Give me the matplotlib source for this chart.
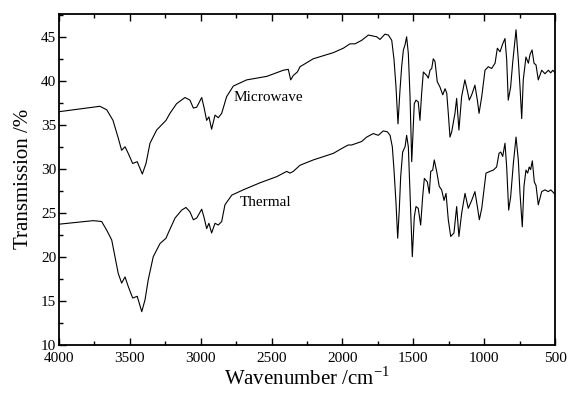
import numpy as np
import matplotlib.pyplot as plt
from matplotlib.ticker import MultipleLocator

plt.rcParams['font.family'] = ['Liberation Serif', 'DejaVu Serif']
plt.rcParams['mathtext.fontset'] = 'custom'
plt.rcParams['mathtext.rm'] = 'Liberation Serif'

# FTIR spectra: wavenumber (cm-1) / transmission (%)
wn_micro = [3993, 3852, 3711, 3663, 3619, 3584, 3558, 3534, 3513, 3480, 3448, 3412,
            3386, 3358, 3311, 3245, 3217, 3170, 3111, 3076, 3052, 3028, 2993, 2977,
            2958, 2942, 2923, 2899, 2876, 2852, 2817, 2770, 2676, 2534, 2417, 2382,
            2365, 2347, 2318, 2299, 2206, 2064, 1994, 1947, 1911, 1864, 1817, 1758,
            1735, 1700, 1676, 1652, 1636, 1622, 1608, 1594, 1582, 1570, 1558, 1547,
            1535, 1523, 1511, 1493, 1481, 1465, 1453, 1441, 1429, 1405, 1394, 1382,
            1370, 1359, 1347, 1331, 1312, 1292, 1276, 1264, 1253, 1241, 1229, 1206,
            1194, 1178, 1159, 1136, 1119, 1105, 1088, 1065, 1048, 1036, 1017, 994,
            971, 947, 923, 907, 888, 869, 853, 841, 830, 813, 799, 775, 759, 747,
            735, 724, 705, 688, 676, 662, 648, 634, 618, 594, 571, 547, 530, 516, 500]
tr_micro = [36.5, 36.8, 37.1, 36.7, 35.5, 33.6, 32.1, 32.5, 31.8, 30.6, 30.8, 29.4,
            30.6, 32.9, 34.4, 35.5, 36.3, 37.4, 38.1, 37.8, 36.9, 37.0, 38.1, 37.0,
            35.5, 35.9, 34.5, 36.1, 35.8, 36.3, 38.2, 39.4, 40.1, 40.5, 41.2, 41.3,
            40.1, 40.6, 41.0, 41.6, 42.5, 43.2, 43.7, 44.2, 44.2, 44.6, 45.2, 45.0,
            44.7, 45.3, 45.2, 44.6, 42.4, 39.3, 35.1, 38.9, 41.6, 43.5, 44.1, 45.0,
            43.1, 38.2, 30.8, 37.4, 37.8, 37.6, 35.5, 38.6, 41.0, 40.6, 40.3, 41.2,
            41.4, 42.5, 42.2, 39.9, 39.3, 38.4, 39.1, 38.6, 36.3, 33.6, 34.2, 36.3,
            38.0, 34.4, 38.2, 40.1, 38.9, 37.8, 38.4, 39.5, 37.8, 36.3, 38.2, 41.2,
            41.6, 41.4, 42.0, 43.7, 43.3, 44.2, 44.8, 42.4, 37.8, 39.3, 42.0, 45.8,
            42.4, 39.3, 35.7, 40.1, 42.7, 42.0, 43.0, 43.5, 42.0, 41.8, 40.1, 41.2,
            40.8, 41.2, 40.9, 41.2, 40.9]

wn_thermal = [3998, 3758, 3699, 3663, 3628, 3605, 3582, 3558, 3534, 3511, 3480, 3448,
              3416, 3393, 3370, 3335, 3287, 3245, 3229, 3181, 3134, 3104, 3076, 3052,
              3028, 2993, 2977, 2958, 2942, 2923, 2899, 2876, 2852, 2829, 2781, 2700,
              2582, 2464, 2393, 2370, 2347, 2299, 2206, 2064, 2005, 1959, 1935, 1899,
              1864, 1829, 1782, 1747, 1712, 1683, 1664, 1648, 1636, 1622, 1610, 1599,
              1589, 1575, 1558, 1547, 1535, 1523, 1507, 1493, 1481, 1465, 1448, 1434,
              1422, 1401, 1387, 1377, 1363, 1352, 1335, 1317, 1300, 1283, 1269, 1253,
              1236, 1213, 1194, 1178, 1159, 1135, 1112, 1088, 1065, 1048, 1034, 1017,
              987, 959, 935, 912, 895, 883, 869, 853, 841, 827, 813, 794, 775, 759,
              747, 731, 719, 705, 693, 682, 672, 660, 646, 634, 618, 594, 571, 547,
              530, 500]
tr_thermal = [23.7, 24.1, 24.0, 23.0, 21.9, 20.0, 18.1, 17.0, 17.7, 16.6, 15.3, 15.5,
              13.75, 15.1, 17.4, 20.0, 21.5, 22.1, 22.7, 24.4, 25.3, 25.6, 25.1, 24.2,
              24.4, 25.4, 24.5, 23.2, 23.8, 22.7, 23.8, 23.6, 24.0, 25.9, 27.0, 27.6,
              28.4, 29.1, 29.7, 29.5, 29.7, 30.4, 31.0, 31.75, 32.3, 32.7, 32.7, 32.9,
              33.1, 33.6, 34.0, 33.8, 34.3, 34.2, 33.8, 32.5, 29.85, 26.1, 22.1, 25.3,
              29.1, 31.9, 32.5, 33.8, 32.5, 27.2, 20.0, 24.5, 25.7, 25.5, 23.6, 26.8,
              28.9, 28.5, 27.2, 29.7, 29.85, 31.0, 29.7, 28.0, 27.6, 26.4, 27.2, 24.2,
              22.3, 22.7, 25.7, 22.3, 24.9, 27.2, 25.5, 26.4, 27.4, 25.7, 24.2, 25.5,
              29.5, 29.7, 29.85, 30.2, 31.75, 31.9, 31.4, 32.9, 30.2, 25.3, 26.8, 30.6,
              33.6, 31.0, 27.2, 23.4, 28.0, 29.85, 29.5, 30.2, 29.9, 30.9, 28.5, 28.1,
              25.9, 27.4, 27.6, 27.4, 27.6, 27.1]

fig = plt.figure(figsize=(5.7, 3.98), dpi=100)
ax = fig.add_axes([0.1035, 0.134, 0.8702, 0.831])

ax.plot(wn_micro, tr_micro, color='black', lw=0.8)
ax.plot(wn_thermal, tr_thermal, color='black', lw=0.8)

ax.text(2765, 38.1, 'Microwave', fontsize=11, va='center', ha='left')
ax.text(2723, 26.2, 'Thermal', fontsize=11, va='center', ha='left')

ax.set_xlim(4000, 500)
ax.set_ylim(10, 47.6)
ax.xaxis.set_major_locator(MultipleLocator(500))
ax.xaxis.set_minor_locator(MultipleLocator(250))
ax.yaxis.set_major_locator(MultipleLocator(5))
ax.yaxis.set_minor_locator(MultipleLocator(2.5))
ax.tick_params(which='both', direction='in', top=True, right=False, labelsize=11)
ax.tick_params(axis='x', pad=5)
ax.tick_params(axis='y', pad=2)
ax.tick_params(which='major', length=5, width=1)
ax.tick_params(which='minor', length=3, width=1)
for s in ax.spines.values():
    s.set_linewidth(1.3)

ax.set_xlabel(r'Wavenumber /cm$^{\mathrm{-1}}$', fontsize=15, labelpad=2)
ax.set_ylabel('Transmission /%', fontsize=15, labelpad=6)

fig.savefig('out.png', dpi=100)
